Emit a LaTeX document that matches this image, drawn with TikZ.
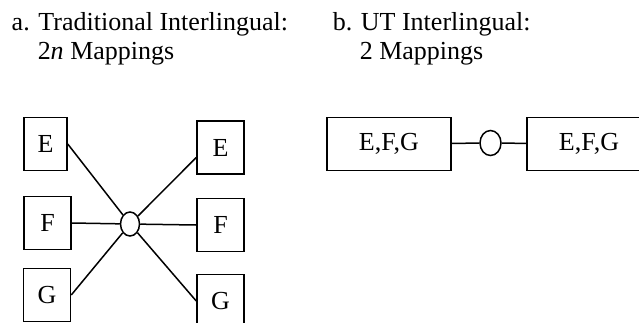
\documentclass[tikz,border=0pt]{standalone}
\usepackage{fontspec}
\setmainfont{Liberation Serif}
\usetikzlibrary{shapes.geometric}

\begin{document}
\begin{tikzpicture}[x=1pt, y=-1pt, line width=1.5pt,
  every node/.style={font=\fontsize{26}{28}\selectfont},
  langbox/.style={draw, rectangle, minimum width=47pt, minimum height=53pt, inner sep=0pt},
  widebox/.style={langbox, minimum width=124pt},
  hub/.style={draw, ellipse, minimum width=19pt, minimum height=24pt, inner sep=0pt},
  title/.style={anchor=base west, inner sep=0pt}]
\useasboundingbox (0,0) rectangle (639,322);
% captions
\node[title] (ta1) at (11,30) {a. Traditional Interlingual:};
\node[title] (ta2) at (37,59) {2\textit{n} Mappings};
\node[title] (tb1) at (332,30) {b. UT Interlingual:};
\node[title] (tb2) at (359,59) {2 Mappings};
% a. star of mappings
\node[langbox, minimum width=43pt] (lE) at (45.5,144) {E};
\node[langbox] (lF) at (47.5,223) {F};
\node[langbox] (lG) at (47,295) {G};
\node[langbox] (rE) at (220.5,147.5) {E};
\node[langbox] (rF) at (220.5,225) {F};
\node[langbox] (rG) at (220.5,301) {G};
\node[hub] (il) at (130,224) {};
\foreach\s in {lE,lF,lG}{
  \draw (\s.east) -- (il);
}
\draw ([yshift=-10pt]rE.west) -- (il);
\draw (rF.west) -- (il);
\draw (rG.west) -- (il);
% b. one pair
\node[widebox] (src) at (389,144) {E,F,G};
\node[hub, minimum width=21pt, minimum height=25pt] (ut) at (490.5,143) {};
\node[widebox] (tgt) at (589,144) {E,F,G};
\draw (src) -- (ut) -- (tgt);
\end{tikzpicture}
\end{document}
